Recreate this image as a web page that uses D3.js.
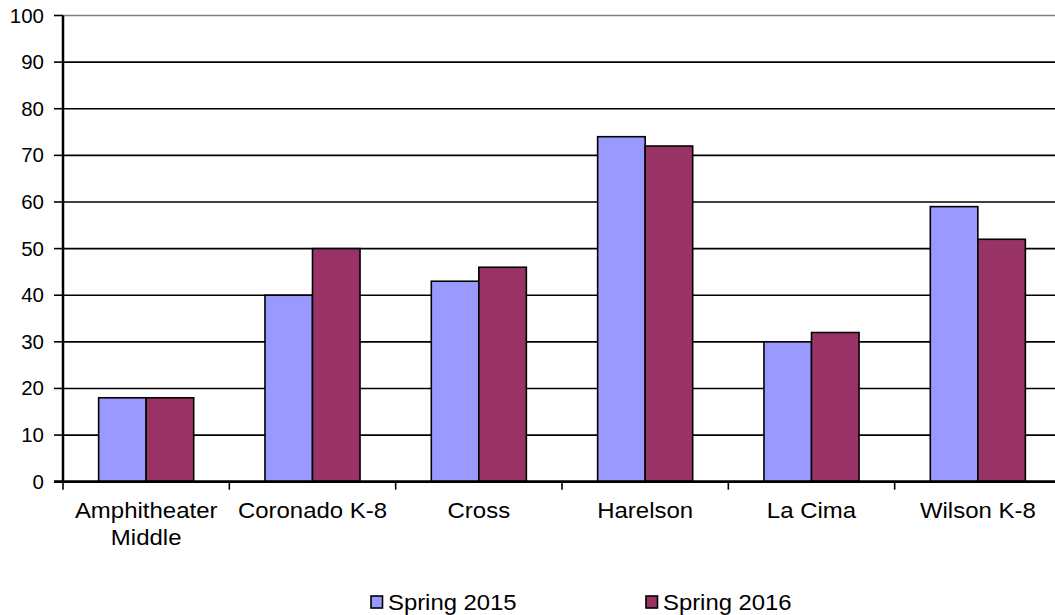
<!DOCTYPE html>
<html><head><meta charset="utf-8">
<script src="https://cdn.jsdelivr.net/npm/d3@7"></script>
<style>body{margin:0;background:#fff}svg{display:block}</style>
</head><body>
<svg id="c" width="1055" height="615"></svg>
<script>
const categories = [["Amphitheater","Middle"],["Coronado K-8"],["Cross"],["Harelson"],["La Cima"],["Wilson K-8"]];
const seriesNames = ["Spring 2015","Spring 2016"];
const spring2015 = [18,40,43,74,30,59];
const spring2016 = [18,50,46,72,32,52];
const yTicks = [0,10,20,30,40,50,60,70,80,90,100];
const colors = ["#9999ff","#993366"];

const svg = d3.select("#c");
const L = 63, R = 1061, T = 15.5, B = 481.7;
const font = "'Liberation Sans', Arial, sans-serif";
const x = d3.scaleBand().domain(d3.range(categories.length)).range([L,R]).paddingInner(0).paddingOuter(0);
const y = d3.scaleLinear().domain([0,100]).range([B,T]);
const bw = x.bandwidth()/3.5;

function stretched(sel, px, py, sx){
  return sel.attr("transform",`translate(${px},${py}) scale(${sx},1)`);
}

// gridlines
svg.append("g").selectAll("line").data(yTicks.filter(d=>d>0)).join("line")
  .attr("x1",L).attr("x2",1055).attr("y1",d=>y(d)).attr("y2",d=>y(d))
  .attr("stroke",d=>d===100?"#808080":"#000").attr("stroke-width",1.6);

// bars
const series=[spring2015,spring2016];
series.forEach((s,si)=>{
  svg.append("g").selectAll("rect").data(s).join("rect")
    .attr("x",(d,i)=>x(i)+bw*0.75+si*bw)
    .attr("y",d=>y(d)).attr("width",bw).attr("height",d=>B-y(d))
    .attr("fill",colors[si]).attr("stroke","#000").attr("stroke-width",1.6);
});

// y axis
const ya = svg.append("g").attr("transform",`translate(${L},0)`)
  .call(d3.axisLeft(y).tickValues(yTicks).tickSize(0).tickFormat(""));
ya.select(".domain").attr("stroke","#000").attr("stroke-width",2.5).attr("d",`M0,${T}V${B}`);
svg.append("g").selectAll("line").data(yTicks).join("line")
  .attr("x1",L-9).attr("x2",L).attr("y1",d=>y(d)).attr("y2",d=>y(d)).attr("stroke","#000").attr("stroke-width",1.6);
svg.append("g").selectAll("text").data(yTicks).join("text")
  .each(function(d){ stretched(d3.select(this),44,y(d)+7,1.05); })
  .attr("text-anchor","end").attr("font-family",font).attr("font-size",19.5).attr("fill","#000")
  .text(d=>d);

// x axis
const bounds = d3.range(categories.length+1).map(i=>L+i*x.step());
svg.append("line").attr("x1",L-9).attr("x2",1055).attr("y1",B).attr("y2",B).attr("stroke","#000").attr("stroke-width",2.8);
svg.append("g").selectAll("line").data(bounds).join("line")
  .attr("x1",d=>d).attr("x2",d=>d).attr("y1",B).attr("y2",B+8).attr("stroke","#000").attr("stroke-width",1.6);
svg.append("g").selectAll("text").data(categories).join("text")
  .each(function(d,i){
    const t=d3.select(this);
    stretched(t, x(i)+bw*0.75+bw, 518.3, 1.09);
    d.forEach((line,j)=>t.append("tspan").attr("x",0).attr("y",j*26.7).text(line));
  })
  .attr("text-anchor","middle").attr("font-family",font).attr("font-size",22).attr("fill","#000");

// legend
const legX=[371,646];
seriesNames.forEach((n,i)=>{
  svg.append("rect").attr("x",legX[i]).attr("y",596).attr("width",11.5).attr("height",12)
    .attr("fill",colors[i]).attr("stroke","#000").attr("stroke-width",1.6);
  stretched(svg.append("text"),legX[i]+17,609.5,1.085)
    .attr("font-family",font).attr("font-size",22).attr("fill","#000").text(n);
});
</script>
</body></html>
